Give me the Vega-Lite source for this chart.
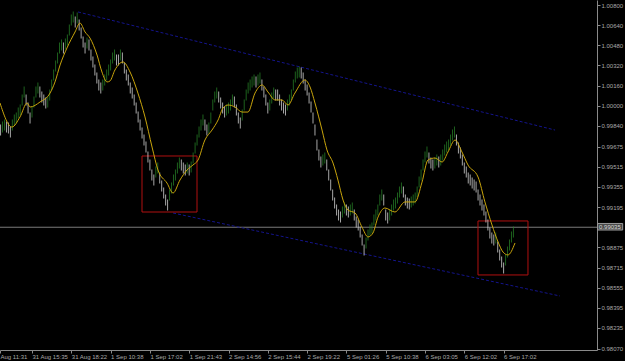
{
"$schema": "https://vega.github.io/schema/vega-lite/v6.json",
"width": 597, "height": 350, "autosize": {"type": "none"}, "padding": {"left": 0, "top": 0, "right": 28, "bottom": 11},
"background": "#000000",
"config": {"view": {"stroke": null}, "font": "Liberation Sans",
"axisX": {"labelAlign": "left", "labelBaseline": "top", "labelPadding": 0, "labelFontSize": 6, "labelColor": "#a8a8a8", "tickColor": "#8a8a8a", "tickSize": 3, "domainColor": "#8a8a8a", "grid": false, "labelOverlap": false, "labelFlush": false, "labelBound": false},
"axisY": {"labelFontSize": 6, "labelColor": "#a8a8a8", "tickSize": 3, "tickColor": "#8a8a8a", "domainColor": "#8a8a8a", "labelPadding": 1, "grid": false, "labelOverlap": false, "labelFlush": false, "labelBound": false}
},
"datasets": {
"bars": [
{"i":4,"p":0.99807,"d":"d"},{"i":5,"p":0.99831,"d":"u"},{"i":6,"p":0.99847,"d":"u"},{"i":7,"p":0.99831,"d":"d"},{"i":8,"p":0.99823,"d":"d"},{"i":9,"p":0.99792,"d":"d"},{"i":10,"p":0.99847,"d":"u"},{"i":11,"p":0.99887,"d":"u"},{"i":12,"p":0.99903,"d":"u"},{"i":13,"p":0.99942,"d":"u"},{"i":14,"p":0.99966,"d":"u"},{"i":15,"p":1.00046,"d":"u"},{"i":16,"p":1.00109,"d":"u"},{"i":17,"p":1.00046,"d":"d"},{"i":18,"p":0.99982,"d":"d"},{"i":19,"p":0.99903,"d":"d"},{"i":20,"p":0.99950,"d":"u"},{"i":21,"p":1.00030,"d":"u"},{"i":22,"p":1.00109,"d":"u"},{"i":23,"p":1.00141,"d":"u"},{"i":24,"p":1.00109,"d":"d"},{"i":25,"p":1.00070,"d":"d"},{"i":26,"p":1.00046,"d":"d"},{"i":27,"p":1.00022,"d":"d"},{"i":28,"p":1.00030,"d":"u"},{"i":29,"p":1.00085,"d":"u"},{"i":30,"p":1.00165,"d":"u"},{"i":31,"p":1.00244,"d":"u"},{"i":32,"p":1.00316,"d":"u"},{"i":33,"p":1.00379,"d":"u"},{"i":34,"p":1.00459,"d":"u"},{"i":35,"p":1.00483,"d":"u"},{"i":36,"p":1.00459,"d":"d"},{"i":37,"p":1.00490,"d":"u"},{"i":38,"p":1.00522,"d":"u"},{"i":39,"p":1.00602,"d":"u"},{"i":40,"p":1.00681,"d":"u"},{"i":41,"p":1.00705,"d":"u"},{"i":42,"p":1.00665,"d":"d"},{"i":43,"p":1.00697,"d":"u"},{"i":44,"p":1.00641,"d":"d"},{"i":45,"p":1.00578,"d":"d"},{"i":46,"p":1.00506,"d":"d"},{"i":47,"p":1.00459,"d":"d"},{"i":48,"p":1.00498,"d":"u"},{"i":49,"p":1.00483,"d":"d"},{"i":50,"p":1.00403,"d":"d"},{"i":51,"p":1.00348,"d":"d"},{"i":52,"p":1.00284,"d":"d"},{"i":53,"p":1.00220,"d":"d"},{"i":54,"p":1.00165,"d":"d"},{"i":55,"p":1.00141,"d":"d"},{"i":56,"p":1.00165,"d":"u"},{"i":57,"p":1.00205,"d":"u"},{"i":58,"p":1.00244,"d":"u"},{"i":59,"p":1.00284,"d":"u"},{"i":60,"p":1.00324,"d":"u"},{"i":61,"p":1.00379,"d":"u"},{"i":62,"p":1.00403,"d":"u"},{"i":63,"p":1.00363,"d":"d"},{"i":64,"p":1.00363,"d":"d"},{"i":65,"p":1.00403,"d":"u"},{"i":66,"p":1.00379,"d":"d"},{"i":67,"p":1.00300,"d":"d"},{"i":68,"p":1.00244,"d":"d"},{"i":69,"p":1.00205,"d":"d"},{"i":70,"p":1.00141,"d":"d"},{"i":71,"p":1.00101,"d":"d"},{"i":72,"p":1.00046,"d":"d"},{"i":73,"p":0.99982,"d":"d"},{"i":74,"p":0.99911,"d":"d"},{"i":75,"p":0.99847,"d":"d"},{"i":76,"p":0.99784,"d":"d"},{"i":77,"p":0.99728,"d":"d"},{"i":78,"p":0.99672,"d":"d"},{"i":79,"p":0.99593,"d":"d"},{"i":80,"p":0.99529,"d":"d"},{"i":81,"p":0.99450,"d":"d"},{"i":82,"p":0.99410,"d":"d"},{"i":83,"p":0.99474,"d":"u"},{"i":84,"p":0.99506,"d":"u"},{"i":85,"p":0.99426,"d":"d"},{"i":86,"p":0.99363,"d":"d"},{"i":87,"p":0.99307,"d":"d"},{"i":88,"p":0.99251,"d":"d"},{"i":89,"p":0.99212,"d":"d"},{"i":90,"p":0.99291,"d":"u"},{"i":91,"p":0.99347,"d":"u"},{"i":92,"p":0.99410,"d":"u"},{"i":93,"p":0.99450,"d":"u"},{"i":94,"p":0.99506,"d":"u"},{"i":95,"p":0.99545,"d":"u"},{"i":96,"p":0.99529,"d":"d"},{"i":97,"p":0.99506,"d":"d"},{"i":98,"p":0.99490,"d":"d"},{"i":99,"p":0.99506,"d":"u"},{"i":100,"p":0.99490,"d":"d"},{"i":101,"p":0.99514,"d":"u"},{"i":102,"p":0.99585,"d":"u"},{"i":103,"p":0.99664,"d":"u"},{"i":104,"p":0.99728,"d":"u"},{"i":105,"p":0.99792,"d":"u"},{"i":106,"p":0.99847,"d":"u"},{"i":107,"p":0.99887,"d":"u"},{"i":108,"p":0.99847,"d":"d"},{"i":109,"p":0.99807,"d":"d"},{"i":110,"p":0.99823,"d":"u"},{"i":111,"p":0.99903,"d":"u"},{"i":112,"p":1.00006,"d":"u"},{"i":113,"p":1.00070,"d":"u"},{"i":114,"p":1.00101,"d":"u"},{"i":115,"p":1.00070,"d":"d"},{"i":116,"p":1.00022,"d":"d"},{"i":117,"p":0.99982,"d":"d"},{"i":118,"p":0.99950,"d":"d"},{"i":119,"p":0.99966,"d":"u"},{"i":120,"p":0.99982,"d":"u"},{"i":121,"p":1.00006,"d":"u"},{"i":122,"p":1.00046,"d":"u"},{"i":123,"p":1.00030,"d":"d"},{"i":124,"p":0.99966,"d":"d"},{"i":125,"p":0.99903,"d":"d"},{"i":126,"p":0.99863,"d":"d"},{"i":127,"p":0.99927,"d":"u"},{"i":128,"p":1.00006,"d":"u"},{"i":129,"p":1.00085,"d":"u"},{"i":130,"p":1.00141,"d":"u"},{"i":131,"p":1.00165,"d":"u"},{"i":132,"p":1.00189,"d":"u"},{"i":133,"p":1.00205,"d":"u"},{"i":134,"p":1.00189,"d":"d"},{"i":135,"p":1.00205,"d":"u"},{"i":136,"p":1.00220,"d":"u"},{"i":137,"p":1.00165,"d":"d"},{"i":138,"p":1.00109,"d":"d"},{"i":139,"p":1.00046,"d":"d"},{"i":140,"p":0.99982,"d":"d"},{"i":141,"p":1.00006,"d":"u"},{"i":142,"p":1.00062,"d":"u"},{"i":143,"p":1.00101,"d":"u"},{"i":144,"p":1.00085,"d":"d"},{"i":145,"p":1.00085,"d":"d"},{"i":146,"p":1.00046,"d":"d"},{"i":147,"p":1.00006,"d":"d"},{"i":148,"p":0.99982,"d":"d"},{"i":149,"p":0.99966,"d":"d"},{"i":150,"p":1.00006,"d":"u"},{"i":151,"p":1.00046,"d":"u"},{"i":152,"p":1.00085,"d":"u"},{"i":153,"p":1.00165,"d":"u"},{"i":154,"p":1.00228,"d":"u"},{"i":155,"p":1.00260,"d":"u"},{"i":156,"p":1.00268,"d":"u"},{"i":157,"p":1.00260,"d":"d"},{"i":158,"p":1.00220,"d":"d"},{"i":159,"p":1.00165,"d":"d"},{"i":160,"p":1.00125,"d":"d"},{"i":161,"p":1.00062,"d":"d"},{"i":162,"p":0.99990,"d":"d"},{"i":163,"p":0.99903,"d":"d"},{"i":164,"p":0.99807,"d":"d"},{"i":165,"p":0.99688,"d":"d"},{"i":166,"p":0.99609,"d":"d"},{"i":167,"p":0.99553,"d":"d"},{"i":168,"p":0.99569,"d":"u"},{"i":169,"p":0.99585,"d":"u"},{"i":170,"p":0.99529,"d":"d"},{"i":171,"p":0.99450,"d":"d"},{"i":172,"p":0.99371,"d":"d"},{"i":173,"p":0.99291,"d":"d"},{"i":174,"p":0.99228,"d":"d"},{"i":175,"p":0.99172,"d":"d"},{"i":176,"p":0.99132,"d":"d"},{"i":177,"p":0.99116,"d":"d"},{"i":178,"p":0.99156,"d":"u"},{"i":179,"p":0.99188,"d":"u"},{"i":180,"p":0.99172,"d":"d"},{"i":181,"p":0.99156,"d":"d"},{"i":182,"p":0.99172,"d":"u"},{"i":183,"p":0.99188,"d":"u"},{"i":184,"p":0.99132,"d":"d"},{"i":185,"p":0.99077,"d":"d"},{"i":186,"p":0.99053,"d":"d"},{"i":187,"p":0.98997,"d":"d"},{"i":188,"p":0.98934,"d":"d"},{"i":189,"p":0.98854,"d":"d"},{"i":190,"p":0.98910,"d":"u"},{"i":191,"p":0.98973,"d":"u"},{"i":192,"p":0.99013,"d":"u"},{"i":193,"p":0.99029,"d":"u"},{"i":194,"p":0.99093,"d":"u"},{"i":195,"p":0.99132,"d":"u"},{"i":196,"p":0.99172,"d":"u"},{"i":197,"p":0.99251,"d":"u"},{"i":198,"p":0.99291,"d":"u"},{"i":199,"p":0.99251,"d":"d"},{"i":200,"p":0.99132,"d":"d"},{"i":201,"p":0.99108,"d":"d"},{"i":202,"p":0.99132,"d":"u"},{"i":203,"p":0.99172,"d":"u"},{"i":204,"p":0.99212,"d":"u"},{"i":205,"p":0.99228,"d":"u"},{"i":206,"p":0.99267,"d":"u"},{"i":207,"p":0.99315,"d":"u"},{"i":208,"p":0.99347,"d":"u"},{"i":209,"p":0.99315,"d":"d"},{"i":210,"p":0.99251,"d":"d"},{"i":211,"p":0.99228,"d":"d"},{"i":212,"p":0.99220,"d":"d"},{"i":213,"p":0.99236,"d":"u"},{"i":214,"p":0.99251,"d":"u"},{"i":215,"p":0.99267,"d":"u"},{"i":216,"p":0.99315,"d":"u"},{"i":217,"p":0.99394,"d":"u"},{"i":218,"p":0.99450,"d":"u"},{"i":219,"p":0.99529,"d":"u"},{"i":220,"p":0.99593,"d":"u"},{"i":221,"p":0.99633,"d":"u"},{"i":222,"p":0.99585,"d":"d"},{"i":223,"p":0.99545,"d":"d"},{"i":224,"p":0.99529,"d":"d"},{"i":225,"p":0.99545,"d":"u"},{"i":226,"p":0.99569,"d":"u"},{"i":227,"p":0.99553,"d":"d"},{"i":228,"p":0.99569,"d":"u"},{"i":229,"p":0.99609,"d":"u"},{"i":230,"p":0.99649,"d":"u"},{"i":231,"p":0.99672,"d":"u"},{"i":232,"p":0.99688,"d":"u"},{"i":233,"p":0.99728,"d":"u"},{"i":234,"p":0.99768,"d":"u"},{"i":235,"p":0.99792,"d":"u"},{"i":236,"p":0.99728,"d":"d"},{"i":237,"p":0.99664,"d":"d"},{"i":238,"p":0.99625,"d":"d"},{"i":239,"p":0.99569,"d":"d"},{"i":240,"p":0.99506,"d":"d"},{"i":241,"p":0.99474,"d":"d"},{"i":242,"p":0.99426,"d":"d"},{"i":243,"p":0.99410,"d":"d"},{"i":244,"p":0.99386,"d":"d"},{"i":245,"p":0.99371,"d":"d"},{"i":246,"p":0.99355,"d":"d"},{"i":247,"p":0.99291,"d":"d"},{"i":248,"p":0.99251,"d":"d"},{"i":249,"p":0.99212,"d":"d"},{"i":250,"p":0.99172,"d":"d"},{"i":251,"p":0.99116,"d":"d"},{"i":252,"p":0.99053,"d":"d"},{"i":253,"p":0.98989,"d":"d"},{"i":254,"p":0.98950,"d":"d"},{"i":255,"p":0.98934,"d":"d"},{"i":256,"p":0.98950,"d":"u"},{"i":257,"p":0.98878,"d":"d"},{"i":258,"p":0.98815,"d":"d"},{"i":259,"p":0.98759,"d":"d"},{"i":260,"p":0.98711,"d":"d"},{"i":261,"p":0.98775,"d":"u"},{"i":262,"p":0.98838,"d":"u"},{"i":263,"p":0.98894,"d":"u"},{"i":264,"p":0.98958,"d":"u"},{"i":265,"p":0.98997,"d":"u"}
],
"ma": [
{"i":3.7,"p":1.00022},{"i":9.8,"p":0.99831},{"i":13.9,"p":0.99911},{"i":17.5,"p":1.00022},{"i":19.0,"p":0.99990},{"i":24.1,"p":1.00030},{"i":29.2,"p":1.00101},{"i":31.7,"p":1.00189},{"i":34.3,"p":1.00324},{"i":37.8,"p":1.00459},{"i":41.9,"p":1.00586},{"i":44.4,"p":1.00657},{"i":47.0,"p":1.00586},{"i":49.5,"p":1.00538},{"i":53.1,"p":1.00403},{"i":55.6,"p":1.00268},{"i":58.2,"p":1.00189},{"i":59.7,"p":1.00197},{"i":62.2,"p":1.00284},{"i":66.3,"p":1.00348},{"i":69.9,"p":1.00268},{"i":73.9,"p":1.00101},{"i":77.5,"p":0.99911},{"i":81.1,"p":0.99672},{"i":84.1,"p":0.99490},{"i":88.7,"p":0.99386},{"i":91.8,"p":0.99307},{"i":95.3,"p":0.99410},{"i":98.9,"p":0.99490},{"i":101.9,"p":0.99529},{"i":104.5,"p":0.99569},{"i":108.0,"p":0.99728},{"i":111.6,"p":0.99807},{"i":114.7,"p":0.99887},{"i":117.2,"p":0.99982},{"i":119.8,"p":1.00006},{"i":123.3,"p":0.99990},{"i":126.9,"p":0.99950},{"i":129.9,"p":0.99950},{"i":133.5,"p":1.00101},{"i":137.1,"p":1.00165},{"i":140.1,"p":1.00109},{"i":143.7,"p":1.00046},{"i":147.2,"p":1.00046},{"i":150.3,"p":1.00006},{"i":153.8,"p":1.00101},{"i":158.9,"p":1.00205},{"i":161.5,"p":1.00149},{"i":164.0,"p":1.00022},{"i":167.6,"p":0.99807},{"i":170.1,"p":0.99649},{"i":173.2,"p":0.99545},{"i":175.7,"p":0.99410},{"i":178.3,"p":0.99251},{"i":180.8,"p":0.99172},{"i":184.4,"p":0.99148},{"i":187.9,"p":0.99037},{"i":191.0,"p":0.98958},{"i":193.5,"p":0.98989},{"i":196.1,"p":0.99116},{"i":199.6,"p":0.99188},{"i":204.7,"p":0.99156},{"i":209.8,"p":0.99236},{"i":214.9,"p":0.99236},{"i":218.5,"p":0.99394},{"i":221.5,"p":0.99569},{"i":225.1,"p":0.99585},{"i":228.7,"p":0.99553},{"i":231.7,"p":0.99633},{"i":235.3,"p":0.99728},{"i":238.8,"p":0.99633},{"i":241.9,"p":0.99529},{"i":247.0,"p":0.99434},{"i":250.5,"p":0.99236},{"i":254.1,"p":0.99053},{"i":257.2,"p":0.98918},{"i":259.7,"p":0.98838},{"i":262.2,"p":0.98815},{"i":265.8,"p":0.98910}
],
"trend": [
{"i":43.4,"p":1.00745,"g":"upper"},{"i":286.2,"p":0.99807,"g":"upper"},
{"i":91.8,"p":0.99148,"g":"lower"},{"i":288.7,"p":0.98489,"g":"lower"}
],
"boxes": [
{"i":75.98,"b":103.97,"p":0.99156,"hi":0.99601},
{"i":246.97,"b":272.4,"p":0.98656,"hi":0.99085}
],
"hline": [{"p":0.99035}],
"lastbox": [{"i":307.8,"b":320.6,"p":0.99013,"hi":0.99065}],
"lastlabel": [{"i":308.6,"p":0.99035,"label":"0.99035"}]
},
"layer": [
{
"data": {"name": "hline"},
"mark": {"type": "rule", "color": "#7a7a7a", "strokeWidth": 1},
"encoding": {
"y": {"field": "p", "type": "quantitative", "title": null, "scale": {"domain": [0.9806, 1.0084], "nice": false, "zero": false},
"axis": {"orient": "right", "title": null, "format": ".5f", "values": [1.008, 1.0064, 1.0048, 1.0032, 1.0016, 1.0, 0.9984, 0.99675, 0.99515, 0.99355, 0.99195, 0.98875, 0.98715, 0.98555, 0.98395, 0.98235, 0.9807]}}
}
},
{
"encoding": {
"x": {"field": "i", "type": "quantitative", "title": null, "scale": {"domain": [3.715, 307.53], "nice": false, "zero": false},
"axis": {"orient": "bottom", "title": null, "values": [3.72, 20, 40, 60, 80, 100, 120, 140, 160, 180, 200, 220, 240, 260],
"labelExpr": "['Aug 11:31','31 Aug 15:35','31 Aug 18:22','1 Sep 10:38','1 Sep 17:02','1 Sep 21:43','2 Sep 14:56','2 Sep 15:44','2 Sep 19:22','5 Sep 01:26','5 Sep 10:38','6 Sep 03:05','6 Sep 12:02','6 Sep 17:02'][round(datum.value/20)]"}},
"y": {"field": "p", "type": "quantitative", "title": null, "scale": {"domain": [0.9806, 1.0084], "nice": false, "zero": false},
"axis": {"orient": "right", "title": null, "format": ".5f", "values": [1.008, 1.0064, 1.0048, 1.0032, 1.0016, 1.0, 0.9984, 0.99675, 0.99515, 0.99355, 0.99195, 0.98875, 0.98715, 0.98555, 0.98395, 0.98235, 0.9807]}}
},
"layer": [
{
"data": {"name": "trend"},
"mark": {"type": "line", "color": "#14148c", "strokeWidth": 1, "strokeDash": [3, 2]},
"encoding": {"detail": {"field": "g"}}
},
{
"data": {"name": "boxes"},
"mark": {"type": "rect", "filled": false, "stroke": "#b01010", "strokeWidth": 1},
"encoding": {"x2": {"field": "b"}, "y2": {"field": "hi"}}
},
{
"data": {"name": "bars"},
"mark": {"type": "tick", "orient": "vertical", "size": 11, "thickness": 1},
"encoding": {
"color": {"field": "d", "type": "nominal", "scale": {"domain": ["u", "d"], "range": ["#2a8a2a", "#eeeeee"]}, "legend": null}
}
},
{
"data": {"name": "ma"},
"mark": {"type": "line", "color": "#c9a50c", "strokeWidth": 1, "interpolate": "monotone"},
"encoding": {}
},
{
"data": {"name": "lastbox"},
"mark": {"type": "rect", "fill": "#4a4a4a", "stroke": "#9a9a9a", "strokeWidth": 1},
"encoding": {"x2": {"field": "b"}, "y2": {"field": "hi"}}
},
{
"data": {"name": "lastlabel"},
"mark": {"type": "text", "align": "left", "baseline": "middle", "fontSize": 6, "color": "#d8d8d8"},
"encoding": {"text": {"field": "label"}}
}
]
}
]
}
